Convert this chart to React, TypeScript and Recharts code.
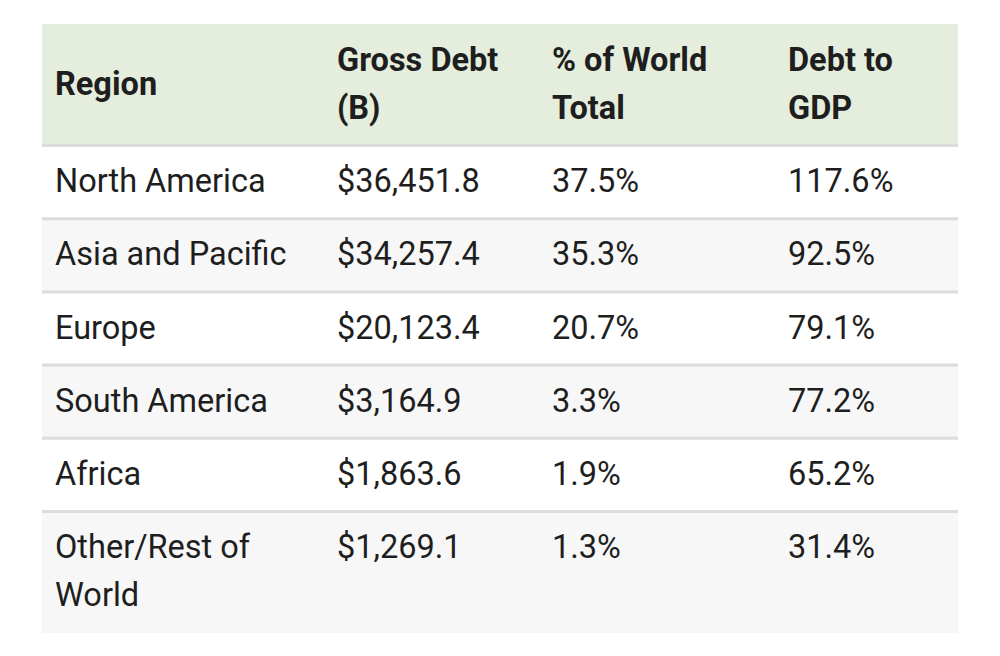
import { ScatterChart, Scatter, XAxis, YAxis, ReferenceArea, ReferenceLine } from 'recharts'

// table content
const columns = ['Region', 'Gross Debt\n(B)', '% of World\nTotal', 'Debt to\nGDP']
const regions = [
  'North America',
  'Asia and Pacific',
  'Europe',
  'South America',
  'Africa',
  'Other/Rest of\nWorld',
]
const grossDebt = [36451.8, 34257.4, 20123.4, 3164.9, 1863.6, 1269.1]
const worldShare = [37.5, 35.3, 20.7, 3.3, 1.9, 1.3]
const debtToGdp = [117.6, 92.5, 79.1, 77.2, 65.2, 31.4]

// layout
const colWidths = [282, 215, 236, 183]
const LINE_H = 48
const ROW_PAD = 25
const CELL_PAD = 13
const TEXT_NUDGE = -1
const FONT = 'Roboto, "Noto Sans", sans-serif'

const fmtDebt = (v: number) =>
  '$' + v.toLocaleString('en-US', { minimumFractionDigits: 1, maximumFractionDigits: 1 })
const fmtPct = (v: number) => `${v.toFixed(1)}%`

const body = regions.map((r, i) => [r, fmtDebt(grossDebt[i]), fmtPct(worldShare[i]), fmtPct(debtToGdp[i])])
const allRows = [columns, ...body]

const lineCounts = allRows.map((row) => Math.max(...row.map((c) => c.split('\n').length)))
const rowHeights = lineCounts.map((n) => ROW_PAD + LINE_H * n)
const rowTops: number[] = []
rowHeights.reduce((acc, h) => {
  rowTops.push(acc)
  return acc + h
}, 0)
const totalH = rowHeights.reduce((a, b) => a + b, 0)

const colStarts: number[] = []
colWidths.reduce((acc, w) => {
  colStarts.push(acc)
  return acc + w
}, 0)
const totalW = colWidths.reduce((a, b) => a + b, 0)

const cells = allRows.flatMap((row, r) =>
  row.map((text, c) => ({
    x: colStarts[c],
    y: rowTops[r] + rowHeights[r] / 2,
    text,
    header: r === 0,
    rowLines: lineCounts[r],
  }))
)

function rowFill(r: number) {
  if (r === 0) return '#e5eddc'
  return r % 2 === 1 ? '#ffffff' : '#f7f7f7'
}

function CellText(props: any) {
  const { cx, cy, payload } = props
  if (cx == null || cy == null) return null
  const lines: string[] = payload.text.split('\n')
  // header cells are vertically centred, body cells are top aligned
  const first =
    (payload.header
      ? cy - ((lines.length - 1) * LINE_H) / 2
      : cy - ((payload.rowLines - 1) * LINE_H) / 2) + TEXT_NUDGE
  return (
    <text
      x={cx + CELL_PAD}
      fontFamily={FONT}
      fontSize={32.5}
      fontWeight={payload.header ? 700 : 400}
      fill="#1e1e1e"
    >
      {lines.map((l, i) => (
        <tspan key={i} x={cx + CELL_PAD} y={first + i * LINE_H} dominantBaseline="central">
          {l}
        </tspan>
      ))}
    </text>
  )
}

export default function App() {
  return (
    <div style={{ position: 'absolute', left: 0, top: 0, width: 1000, height: 656, background: '#fff' }}>
      <ScatterChart width={1000} height={656} margin={{ top: 24, right: 42, bottom: 23, left: 42 }}>
        <XAxis type="number" dataKey="x" domain={[0, totalW]} hide allowDataOverflow />
        <YAxis type="number" dataKey="y" domain={[0, totalH]} reversed hide allowDataOverflow />
        {rowTops.map((top, r) => (
          <ReferenceArea
            key={`bg-${r}`}
            x1={0}
            x2={totalW}
            y1={top}
            y2={top + rowHeights[r]}
            fill={rowFill(r)}
            fillOpacity={1}
            stroke="none"
          />
        ))}
        {rowTops.slice(1).map((top, r) => (
          <ReferenceLine key={`ln-${r}`} y={top} stroke="#dcdcdc" strokeWidth={3} />
        ))}
        <Scatter data={cells} shape={CellText} isAnimationActive={false} />
      </ScatterChart>
    </div>
  )
}
